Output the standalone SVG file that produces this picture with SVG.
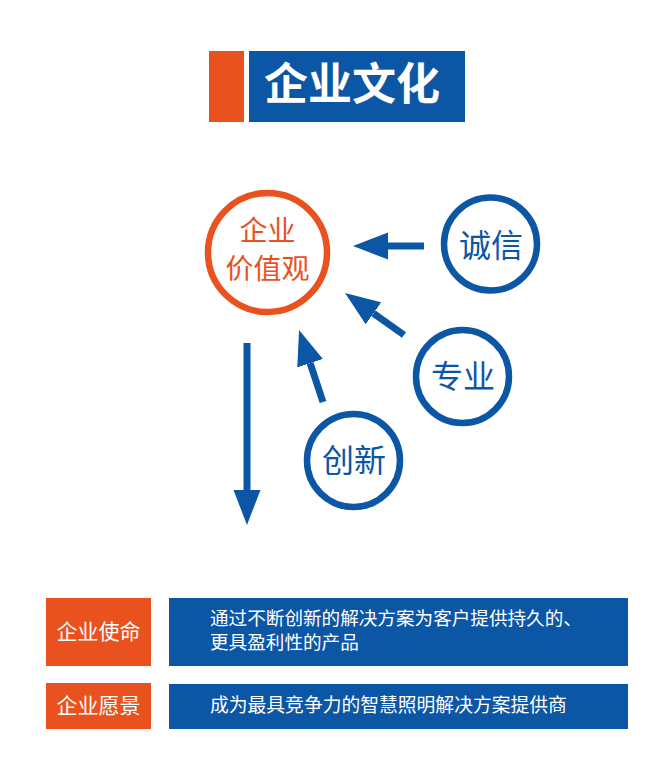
<svg xmlns="http://www.w3.org/2000/svg" width="659" height="772" viewBox="0 0 659 772">
<defs>
<style>
.cjk{font-family:"Noto Sans CJK SC","Noto Sans CJK JP",sans-serif;}
.ring{fill:none;stroke:#0C56A6;stroke-width:6.5;}
.ringO{fill:none;stroke:#E9511E;stroke-width:6.5;}
.btxt{fill:#0C56A6;font-size:32px;text-anchor:middle;}
.shaft{stroke:#0C56A6;stroke-width:7;fill:none;marker-end:url(#head);}
.wt{fill:#ffffff;}
</style>
<marker id="head" markerUnits="userSpaceOnUse" markerWidth="36" markerHeight="28" refX="0" refY="13.5" orient="auto" viewBox="0 0 36 27">
<path d="M0,0 L35,13.5 L0,27 Z" fill="#0C56A6"/>
</marker>
</defs>
<rect width="659" height="772" fill="#ffffff"/>
<g id="title">
<rect x="209" y="51" width="35" height="71" fill="#E9511E"/>
<rect x="249" y="51" width="216" height="71" fill="#0C56A6"/>
<text class="cjk wt" x="352" y="100" font-size="44" font-weight="bold" text-anchor="middle">企业文化</text>
</g>
<g id="node-values">
<circle class="ringO" cx="267.5" cy="252.5" r="59.5"/>
<text class="cjk" x="267.5" y="241" font-size="28" fill="#E9511E" text-anchor="middle">企业</text>
<text class="cjk" x="267.5" y="279" font-size="28" fill="#E9511E" text-anchor="middle">价值观</text>
</g>
<g id="node-integrity">
<circle class="ring" cx="490.5" cy="244" r="46.5"/>
<text class="cjk btxt" x="491" y="257">诚信</text>
</g>
<g id="node-professional">
<circle class="ring" cx="462.5" cy="376.5" r="46.5"/>
<text class="cjk btxt" x="463" y="388">专业</text>
</g>
<g id="node-innovation">
<circle class="ring" cx="353.5" cy="460.5" r="46.5"/>
<text class="cjk btxt" x="354" y="472">创新</text>
</g>
<g id="connectors">
<line class="shaft" x1="424" y1="246" x2="388" y2="246"/>
<line class="shaft" x1="404" y1="335" x2="373.5" y2="313.3"/>
<line class="shaft" x1="323" y1="402" x2="310.1" y2="363.2"/>
<line class="shaft" x1="247" y1="343" x2="247" y2="490"/>
</g>
<g id="node-mission">
<rect x="46" y="598" width="105" height="68" fill="#E9511E"/>
<text class="cjk wt" x="98.5" y="639" font-size="21" text-anchor="middle">企业使命</text>
<rect x="169" y="598" width="459" height="68" fill="#0C56A6"/>
<text class="cjk wt" x="210" y="625" font-size="18.6">通过不断创新的解决方案为客户提供持久的、</text>
<text class="cjk wt" x="210" y="649" font-size="18.6">更具盈利性的产品</text>
</g>
<g id="node-vision">
<rect x="46" y="683" width="105" height="46" fill="#E9511E"/>
<text class="cjk wt" x="98.5" y="713" font-size="21" text-anchor="middle">企业愿景</text>
<rect x="169" y="684" width="459" height="45" fill="#0C56A6"/>
<text class="cjk wt" x="210" y="712" font-size="18.8">成为最具竞争力的智慧照明解决方案提供商</text>
</g>
</svg>
